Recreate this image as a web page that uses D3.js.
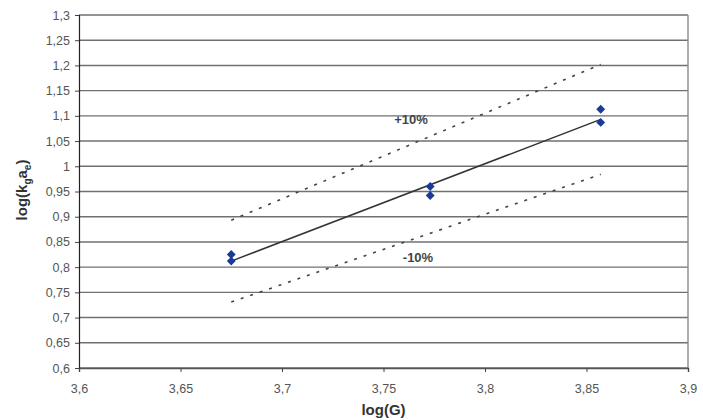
<!DOCTYPE html>
<html>
<head>
<meta charset="utf-8">
<script src="https://cdn.jsdelivr.net/npm/d3@7"></script>
<style>
  body { margin: 0; background: #fff; }
  text { font-family: "Liberation Sans", Arial, sans-serif; }
</style>
</head>
<body>
<svg id="chart"></svg>
<script>
// measured points, log(G) vs log(kg ae)
const logG = [3.675, 3.675, 3.773, 3.773, 3.857, 3.857]
const logKa = [0.825, 0.812, 0.960, 0.942, 1.113, 1.087]

// fitted line and +/-10% band, ends
const fitX = [3.675, 3.857]
const fitY = [0.812, 1.093]
const upperY = [0.893, 1.202]
const lowerY = [0.731, 0.984]

const xTicks = [3.6, 3.65, 3.7, 3.75, 3.8, 3.85, 3.9]
const yTicks = [0.6, 0.65, 0.7, 0.75, 0.8, 0.85, 0.9, 0.95, 1, 1.05, 1.1, 1.15, 1.2, 1.25, 1.3]

let w = 703
let h = 420
let margin = {top: 15, right: 15, bottom: 52, left: 79}

let svg = d3.select('#chart')
    .attr('width', w)
    .attr('height', h)

let x = d3.scaleLinear([3.6, 3.9], [margin.left, w - margin.right])
let y = d3.scaleLinear([0.6, 1.3], [h - margin.bottom, margin.top])

const comma = d => String(d).replace('.', ',')

// horizontal grid
svg.append('g')
    .selectAll('line')
    .data(yTicks)
    .enter().append('line')
        .attr('x1', x(3.6))
        .attr('x2', x(3.9))
        .attr('y1', d => y(d))
        .attr('y2', d => y(d))
        .attr('stroke', '#707070')
        .attr('stroke-width', 1.4)

// right border of plot area
svg.append('line')
    .attr('x1', x(3.9)).attr('x2', x(3.9))
    .attr('y1', y(1.3)).attr('y2', y(0.6))
    .attr('stroke', '#8a8a8a')
    .attr('stroke-width', 1.4)

let yAxis = svg.append('g')
    .attr('transform', `translate(${margin.left},0)`)
    .call(d3.axisLeft(y).tickValues(yTicks).tickFormat(comma).tickSize(4).tickPadding(5))
yAxis.select('.domain').attr('stroke', '#222').attr('stroke-width', 1.2)
yAxis.selectAll('.tick line').attr('stroke', '#444')
yAxis.selectAll('text').attr('font-size', 12.5).attr('fill', '#555')

let xAxis = svg.append('g')
    .attr('transform', `translate(0,${h - margin.bottom})`)
    .call(d3.axisBottom(x).tickValues(xTicks).tickFormat(comma).tickSize(4).tickPadding(12))
xAxis.select('.domain').attr('stroke', '#555').attr('stroke-width', 1.4)
xAxis.selectAll('.tick line').attr('stroke', '#444')
xAxis.selectAll('text').attr('font-size', 12.5).attr('fill', '#555')

let line = d3.line()
    .x(d => x(d[0]))
    .y(d => y(d[1]))

// +/-10% dashed lines
;[upperY, lowerY].forEach(ys => {
    svg.append('path')
        .attr('d', line(fitX.map((v, i) => [v, ys[i]])))
        .attr('fill', 'none')
        .attr('stroke', '#444')
        .attr('stroke-width', 1.6)
        .attr('stroke-dasharray', '3,7')
})

// fit line
svg.append('path')
    .attr('d', line(fitX.map((v, i) => [v, fitY[i]])))
    .attr('fill', 'none')
    .attr('stroke', '#333')
    .attr('stroke-width', 1.5)

// data markers
svg.append('g')
    .selectAll('path')
    .data(logG.map((v, i) => [v, logKa[i]]))
    .enter().append('path')
        .attr('d', d3.symbol(d3.symbolDiamond2, 50))
        .attr('transform', d => `translate(${x(d[0])},${y(d[1])})`)
        .attr('fill', '#1a3a9a')

svg.append('text')
    .attr('x', 411).attr('y', 124)
    .attr('text-anchor', 'middle')
    .attr('font-size', 13).attr('font-weight', 'bold').attr('fill', '#444')
    .text('+10%')

svg.append('text')
    .attr('x', 418).attr('y', 262)
    .attr('text-anchor', 'middle')
    .attr('font-size', 13).attr('font-weight', 'bold').attr('fill', '#444')
    .text('-10%')

// axis titles
svg.append('text')
    .attr('x', (x(3.6) + x(3.9)) / 2)
    .attr('y', 415)
    .attr('text-anchor', 'middle')
    .attr('font-size', 15).attr('font-weight', 'bold').attr('fill', '#333')
    .text('log(G)')

let yt = svg.append('text')
    .attr('transform', 'translate(27,190) rotate(-90)')
    .attr('text-anchor', 'middle')
    .attr('font-size', 15).attr('font-weight', 'bold').attr('fill', '#333')
yt.append('tspan').text('log(k')
yt.append('tspan').attr('font-size', 10).attr('dy', 4).text('g')
yt.append('tspan').attr('dy', -4).text('a')
yt.append('tspan').attr('font-size', 10).attr('dy', 4).text('e')
yt.append('tspan').attr('dy', -4).text(')')
</script>
</body>
</html>
